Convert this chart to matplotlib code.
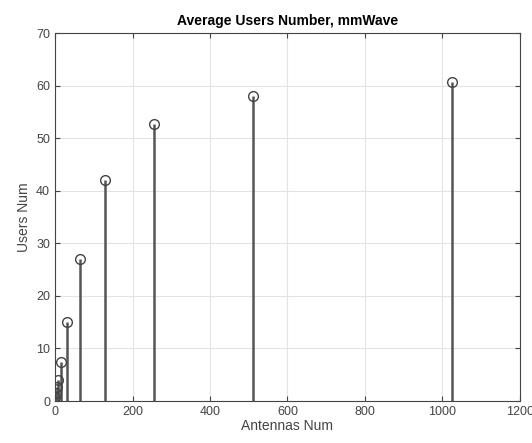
import matplotlib
matplotlib.use("Agg")
import matplotlib.pyplot as plt

antennas = [1, 2, 4, 8, 16, 32, 64, 128, 256, 512, 1024]
users = [0.8, 1.5, 2.7, 4.0, 7.5, 15.0, 27.0, 42.0, 52.6, 58.0, 60.6]

plt.rcParams['font.family'] = ['Liberation Sans', 'DejaVu Sans']

fig = plt.figure(figsize=(5.32, 4.43), dpi=100)
ax = fig.add_axes([0.1034, 0.0948, 0.874, 0.8307])

markerline, stemlines, baseline = ax.stem(antennas, users, basefmt=' ')
plt.setp(stemlines, color='#555555', linewidth=1.8)
plt.setp(markerline, marker='o', markersize=7, markerfacecolor='none',
         markeredgecolor='#444444', markeredgewidth=1.0)

ax.set_xlim(0, 1200)
ax.set_ylim(0, 70)
ax.set_xticks(range(0, 1201, 200))
ax.set_yticks(range(0, 71, 10))
ax.grid(True, color='#e3e3e3', linewidth=0.8)
ax.set_axisbelow(True)
ax.tick_params(direction='in', labelsize=9, colors='#444444', top=True, right=True)
for s in ax.spines.values():
    s.set_color('#444444')

ax.set_title('Average Users Number, mmWave', fontsize=10, fontweight='bold')
ax.set_xlabel('Antennas Num', fontsize=10, color='#444444', labelpad=1)
ax.set_ylabel('Users Num', fontsize=10, color='#444444', labelpad=4)

fig.savefig('out.png', dpi=100)
